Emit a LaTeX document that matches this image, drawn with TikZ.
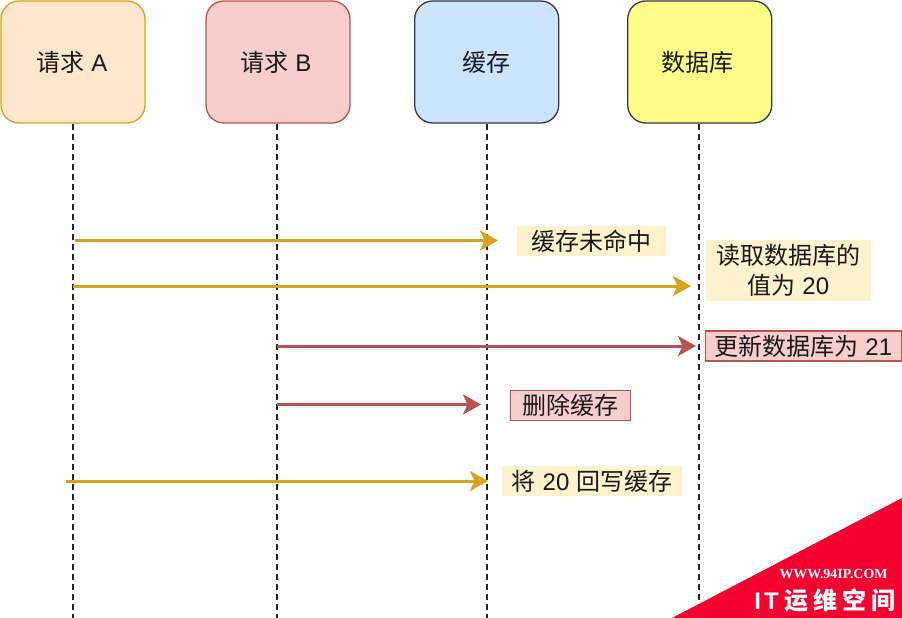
\documentclass[tikz,border=0pt]{standalone}
\usepackage{fontspec}
\setmainfont{Liberation Sans}
\newfontfamily\cjk{Noto Sans CJK SC}
\newfontfamily\wmserif{Liberation Serif}
\usetikzlibrary{arrows.meta}
\definecolor{ora}{HTML}{D9A21B}
\definecolor{orafill}{HTML}{FFE6CC}
\definecolor{redl}{HTML}{B85450}
\definecolor{redfill}{HTML}{F8CECC}
\definecolor{bluefill}{HTML}{CCE5FF}
\definecolor{yelfill}{HTML}{FFFF88}
\definecolor{dk}{HTML}{36393D}
\definecolor{notefill}{HTML}{FFF2CC}
\definecolor{wmred}{HTML}{F5002F}
\newcommand{\zh}[1]{{\cjk #1}}
\tikzset{
  x=1pt,y=-1pt,
  actor/.style={draw,rounded corners=18pt,line width=1.3pt,minimum width=144pt,minimum height=122pt,inner sep=0pt,font=\fontsize{24}{28}\selectfont,text=black!90},
  life/.style={draw=black!85,line width=1.1pt,dash pattern=on 6pt off 4pt},
  msg/.style={line width=3pt,-{Stealth[length=18pt,width=20pt,inset=4.5pt]}},
  msga/.style={msg,draw=ora,color=ora},
  msgb/.style={msg,draw=redl,color=redl},
  note/.style={fill=notefill,inner sep=0pt,align=center,font=\fontsize{24}{30}\selectfont,text=black!90},
  noter/.style={note,fill=redfill,draw=redl,line width=1.3pt},
}
\begin{document}
\begin{tikzpicture}
\useasboundingbox (0,0) rectangle (902,618);
\node[actor,fill=orafill,draw=ora] (A) at (73,62) {\zh{请求} A\kern2pt};
\node[actor,fill=redfill,draw=redl] (B) at (278,62) {\zh{请求} B\kern4pt};
\node[actor,fill=bluefill,draw=dk] (C) at (486.7,62) {\zh{缓存}};
\node[actor,fill=yelfill,draw=dk] (D) at (699.7,62) {\zh{数据库}\kern5pt};
\coordinate (Ae) at (73,618);
\coordinate (Be) at (277,618);
\coordinate (Ce) at (487,618);
\coordinate (De) at (699,618);
\draw[life] (73,123.6) -- (Ae);
\draw[life] (277,123.6) -- (Be);
\draw[life] (487,123.6) -- (Ce);
\draw[life] (699,123.6) -- (De);
\coordinate (m1s) at (75,240.5);   \coordinate (m1e) at (498,240.5);
\coordinate (m2s) at (73,286);   \coordinate (m2e) at (691,286);
\coordinate (m3s) at (277,346);  \coordinate (m3e) at (696,346);
\coordinate (m4s) at (277,404.5);  \coordinate (m4e) at (481,404.5);
\coordinate (m5s) at (66,481);   \coordinate (m5e) at (488,481);
\draw[msga] (m1s) -- (m1e);
\draw[msga] (m2s) -- (m2e);
\draw[msgb] (m3s) -- (m3e);
\draw[msgb] (m4s) -- (m4e);
\draw[msga] (m5s) -- (m5e);
\node[note,minimum width=149pt,minimum height=30pt] (n1) at (591.5,241) {\zh{缓存未命中}};
\node[note,minimum width=165pt,minimum height=61pt] (n2) at (788.5,270.5) {\zh{读取数据库的}\\\zh{值为} 20};
\node[noter,minimum width=196pt,minimum height=30pt] (n3) at (803.5,346) {\zh{更新数据库为} 21};
\node[noter,minimum width=120pt,minimum height=30pt] (n4) at (570.5,405.5) {\zh{删除缓存}};
\node[note,minimum width=180pt,minimum height=30pt] (n5) at (592,481) {\zh{将} 20 \zh{回写缓存}};
\fill[wmred] (672,618) -- (902,498) -- (902,618) -- cycle;
\node[text=white,font=\wmserif\bfseries\fontsize{13.9}{14}\selectfont,inner sep=0pt] (w1) at (833.5,573.5) {WWW.94IP.COM};
\node[text=white,font=\fontsize{24}{26}\selectfont\bfseries,inner sep=0pt] (w2) at (825,600) {I\hspace{3pt}T\hspace{6pt}\zh{\bfseries 运\hspace{5pt}维\hspace{5pt}空\hspace{5pt}间}};
\end{tikzpicture}
\end{document}
